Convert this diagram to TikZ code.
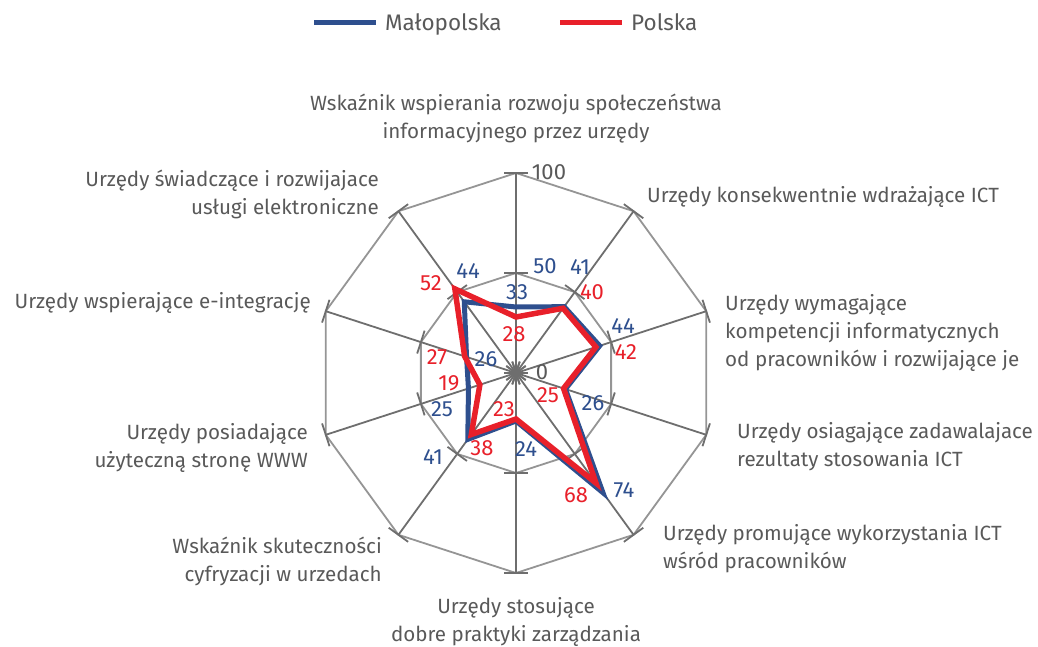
\documentclass[tikz,border=0pt]{standalone}
\usepackage{fontspec}
\setmainfont{Fira Sans}
\usetikzlibrary{calc}
\definecolor{txt}{HTML}{595959}
\definecolor{mblue}{HTML}{2E4F8E}
\definecolor{pred}{HTML}{E8202A}
\definecolor{axisc}{HTML}{6E6E6E}
\definecolor{ringc}{HTML}{959595}
\begin{document}
\begin{tikzpicture}[x=1pt,y=-1pt,
  cat/.style={text=txt, font=\fontsize{20.6}{28}\selectfont, inner sep=0pt},
  leg/.style={text=txt, font=\fontsize{22.5}{28}\selectfont, inner sep=0pt},
  num/.style={font=\fontsize{22}{26}\selectfont, inner sep=0pt},
  mlab/.style={num, text=mblue},
  plab/.style={num, text=pred},
  glab/.style={num, text=txt},
  axisline/.style={draw=axisc, line width=1.8pt},
  ringline/.style={draw=ringc, line width=1.8pt},
  mline/.style={draw=mblue, line width=5pt, line join=miter},
  pline/.style={draw=pred, line width=5.5pt, line join=miter}]
\useasboundingbox (0,0) rectangle (1038,647);
\coordinate (C) at (516,373);
% rings
\foreach \r in {100,200}
  \draw[ringline] ($(C)+(-90:\r)$) \foreach \k in {1,...,9}{ -- ($(C)+(-90+36*\k:\r)$)} -- cycle;
% axes
\foreach \k in {0,...,9}{
  \coordinate (a\k) at ($(C)+(-90+36*\k:200)$);
  \draw[axisline] (C) -- (a\k);
  \foreach \r in {0,100,200}
    \draw[axisline] ($(C)+(-90+36*\k:\r)+(36*\k:12)$) -- ($(C)+(-90+36*\k:\r)+(180+36*\k:12)$);
}
% data
\foreach \v [count=\i from 0] in {33,41,44,26,74,24,41,25,26,44}
  \coordinate (m\i) at ($(C)+(-90+36*\i:2*\v)$);
\foreach \v [count=\i from 0] in {28,40,42,25,68,23,38,19,27,52}
  \coordinate (p\i) at ($(C)+(-90+36*\i:2*\v)$);
\draw[mline] (m0) -- (m1) -- (m2) -- (m3) -- (m4) -- (m5) -- (m6) -- (m7) -- (m8) -- (m9) -- cycle;
\draw[pline] (p0) -- (p1) -- (p2) -- (p3) -- (p4) -- (p5) -- (p6) -- (p7) -- (p8) -- (p9) -- cycle;
% axis value labels
\node[glab] (t100) at (549,172) {100};
\node[mlab] (t50) at (545,266) {50};
\node[glab] (t0) at (542,372) {0};
% data labels
\node[mlab] (lm0) at (517,292) {33};
\node[plab] (lp0) at (514,334) {28};
\node[mlab] (lm1) at (580,267) {41};
\node[plab] (lp1) at (592,292) {40};
\node[mlab] (lm2) at (623,326) {44};
\node[plab] (lp2) at (626,352) {42};
\node[mlab] (lm3) at (593,403) {26};
\node[plab] (lp3) at (548,395) {25};
\node[mlab] (lm4) at (624,490) {74};
\node[plab] (lp4) at (576,495) {68};
\node[mlab] (lm5) at (526,449) {24};
\node[plab] (lp5) at (504,409) {23};
\node[mlab] (lm6) at (433,457) {41};
\node[plab] (lp6) at (482,448) {38};
\node[mlab] (lm7) at (442,409) {25};
\node[plab] (lp7) at (449,383) {19};
\node[mlab] (lm8) at (486,359) {26};
\node[plab] (lp8) at (437,357) {27};
\node[mlab] (lm9) at (468,271) {44};
\node[plab] (lp9) at (431,283) {52};
% category labels
\node[cat, align=center] (c0) at (516,119) {Wskaźnik wspierania rozwoju społeczeństwa\\informacyjnego przez urzędy};
\node[cat, anchor=west] (c1) at (647,197) {Urzędy konsekwentnie wdrażające ICT};
\node[cat, anchor=west, align=left] (c2) at (725,333) {Urzędy wymagające\\kompetencji informatycznych\\od pracowników i rozwijające je};
\node[cat, anchor=west, align=left] (c3) at (737,447) {Urzędy osiagające zadawalajace\\rezultaty stosowania ICT};
\node[cat, anchor=west, align=left] (c4) at (663,549) {Urzędy promujące wykorzystania ICT\\wśród pracowników};
\node[cat, align=center] (c5) at (516,622) {Urzędy stosujące\\dobre praktyki zarządzania};
\node[cat, anchor=east, align=right] (c6) at (382,561) {Wskaźnik skuteczności\\cyfryzacji w urzedach};
\node[cat, anchor=east, align=right] (c7) at (308,448) {Urzędy posiadające\\użyteczną stronę WWW};
\node[cat, anchor=east] (c8) at (311,303) {Urzędy wspierające e-integrację};
\node[cat, anchor=east, align=right] (c9) at (379,194) {Urzędy świadczące i rozwijajace\\usługi elektroniczne};
% legend
\coordinate (lb1) at (314,23); \coordinate (lb2) at (376,23);
\coordinate (lr1) at (560,23); \coordinate (lr2) at (622,23);
\draw[draw=mblue, line width=5pt] (lb1) -- (lb2);
\draw[draw=pred, line width=5pt] (lr1) -- (lr2);
\node[leg, anchor=base west] (legm) at (385,31) {Małopolska};
\node[leg, anchor=base west] (legp) at (631,31) {Polska};
\end{tikzpicture}
\end{document}
